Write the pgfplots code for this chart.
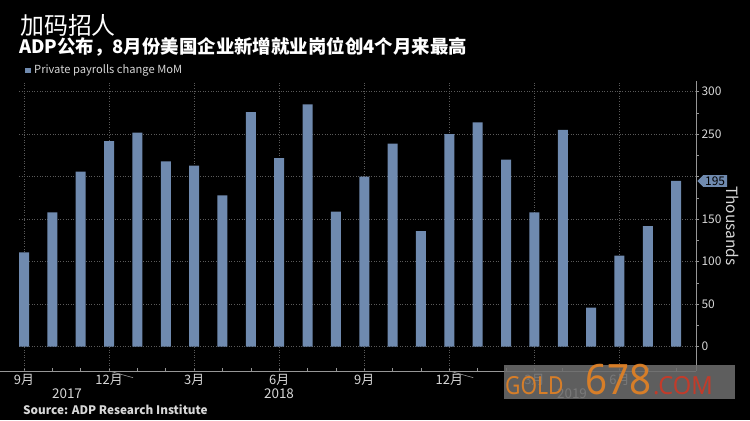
\documentclass[border=0pt]{standalone}
\usepackage{fontspec}
\setmainfont{Noto Sans CJK SC}
\newfontfamily\wmfont{Noto Sans}
\usepackage{pgfplots}
\pgfplotsset{compat=1.18}
\usetikzlibrary{shapes.symbols}
\definecolor{barblue}{RGB}{111,138,175}
\definecolor{gridgray}{RGB}{90,90,90}
\definecolor{axgray}{RGB}{150,150,150}
\definecolor{lbl}{RGB}{215,215,215}
\definecolor{wmorange}{RGB}{222,128,38}
\definecolor{wmred}{RGB}{200,58,40}

\begin{document}
\begin{tikzpicture}[x=1bp,y=1bp]
\useasboundingbox (0,0) rectangle (750,420);
\fill[black] (0,0) rectangle (750,420);

\begin{axis}[
  at={(0bp,49bp)}, anchor=south west,
  scale only axis, width=696bp, height=290bp,
  xmin=-0.847, xmax=23.70, ymin=-28.6, ymax=312.6,
  axis x line=bottom, axis y line=right,
  axis line style={-, axgray, line width=0.8pt},
  xtick={0,...,23},
  xticklabels={9月,,,12月,,,3月,,,6月,,,9月,,,12月,,,3月,,,6月,,},
  xtick align=inside,
  ytick={0,50,100,150,200,250,300},
  yticklabels={0,50,100,150,,250,300},
  minor y tick num=1, ytick align=outside,
  tick style={axgray, line width=0.6pt},
  major tick length=3bp, minor tick length=2.5bp,
  ticklabel style={font=\fontsize{12}{12}\selectfont, text=lbl},
  x tick label style={font=\fontsize{13}{13}\selectfont, yshift=0.5bp},
  y tick label style={xshift=-1bp},
  clip=false,
]
% grid
\pgfplotsinvokeforeach{0,50,100,150,200,250,300}{
  \draw[gridgray, dotted, line width=0.6pt] (axis cs:-0.18,#1) -- (axis cs:23.70,#1);
}
\pgfplotsinvokeforeach{0,3,6,9,12,15,18,21}{
  \draw[gridgray, dotted, line width=0.6pt] (axis cs:#1,-28.6) -- (axis cs:#1,312.6);
}
% year separators
\draw[axgray, line width=0.6pt] (axis cs:3,-28.6) -- ++(0,-31bp);
\draw[axgray, line width=0.6pt] (axis cs:15,-28.6) -- ++(0,-31bp);

\addplot[ybar, bar width=10bp, fill=barblue, draw=none] coordinates {
  (0,111) (1,158) (2,206) (3,242) (4,252) (5,218) (6,213) (7,178)
  (8,276) (9,222) (10,285) (11,159) (12,200) (13,239) (14,136) (15,250)
  (16,264) (17,220) (18,158) (19,255) (20,46) (21,107) (22,142) (23,195)
};
\end{axis}

% titles
\node[anchor=west, text=white, inner sep=0pt, font=\fontsize{24}{24}\selectfont] at (20,395) {加码招人};
\node[anchor=west, text=white, inner sep=0pt, font=\bfseries\fontsize{18.5}{18.5}\selectfont] at (19,373) {ADP公布，8月份美国企业新增就业岗位创4个月来最高};
\fill[barblue] (25,347) rectangle (31,352);
\node[anchor=west, text=lbl, inner sep=0pt, font=\fontsize{11.2}{11.2}\selectfont] at (34,349.5) {Private payrolls change MoM};

% right axis extras
\node[signal, signal to=west, signal from=nowhere, fill=barblue, text=black,
      inner xsep=2bp, inner ysep=1.5bp, anchor=west,
      font=\fontsize{12}{12}\selectfont] at (697,239) {195};
\node[rotate=-90, text=lbl, font=\fontsize{15.5}{15.5}\selectfont] at (733,194) {Thousands};

% years
\node[text=lbl, font=\fontsize{13.5}{13.5}\selectfont] at (67,26) {2017};
\node[text=lbl, font=\fontsize{13.5}{13.5}\selectfont] at (279,26) {2018};
\node[text=lbl, font=\fontsize{13.5}{13.5}\selectfont] at (572,26) {2019};

% source
\node[anchor=west, text=lbl, inner sep=0pt, font=\bfseries\fontsize{11.8}{11.8}\selectfont] at (23,10) {Source: ADP Research Institute};

% watermark
\fill[gray!85!black, opacity=0.88] (504,21) rectangle (735,55);
\node[anchor=base west, inner sep=0pt, xscale=0.85, text=wmorange, opacity=0.95, font=\wmfont\bfseries\fontsize{25}{25}\selectfont] at (505,26) {GOLD};
\node[anchor=base west, inner sep=0pt, xscale=0.92, text=wmorange, opacity=0.95, font=\wmfont\bfseries\fontsize{42}{42}\selectfont] at (585,26) {678};
\node[anchor=base west, inner sep=0pt, xscale=0.95, text=wmred, opacity=0.95, font=\wmfont\bfseries\fontsize{25}{25}\selectfont] at (653,26) {.COM};
\end{tikzpicture}
\end{document}
